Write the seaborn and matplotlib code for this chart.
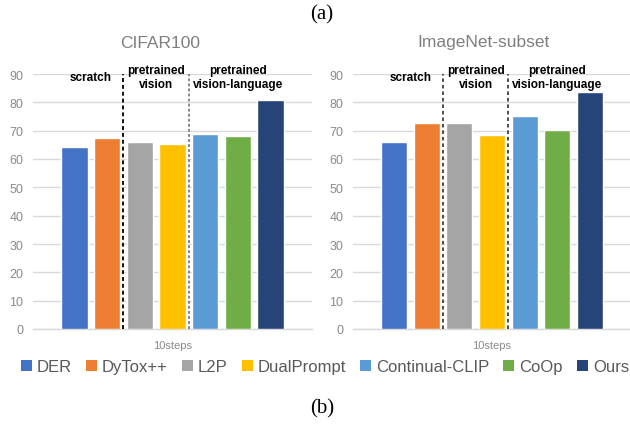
import matplotlib
matplotlib.use("Agg")
import matplotlib.pyplot as plt
from matplotlib.patches import Patch
import seaborn as sns
import pandas as pd

# ---- data ----
methods = ["DER", "DyTox++", "L2P", "DualPrompt", "Continual-CLIP", "CoOp", "Ours"]
cifar100_acc = [64.2, 67.4, 66.0, 65.3, 68.8, 68.1, 80.8]
imagenet_subset_acc = [66.0, 72.7, 72.7, 68.5, 75.2, 70.2, 83.6]
step_label = "10steps"
panel_titles = ["CIFAR100", "ImageNet-subset"]
group_names = ["scratch", "pretrained\nvision", "pretrained\nvision-language"]
group_members = [[0, 1], [2, 3], [4, 5, 6]]
y_ticks = [0, 10, 20, 30, 40, 50, 60, 70, 80, 90]

colors = ["#4472C4", "#ED7D31", "#A5A5A5", "#FFC000", "#5B9BD5", "#70AD47", "#264478"]

sns.set_theme(style="white")
plt.rcParams["font.family"] = ["Liberation Sans", "DejaVu Sans"]

TICK_COLOR = "#8a8a8a"
GRID_COLOR = "#d9d9d9"

fig = plt.figure(figsize=(6.3, 4.27), dpi=100)
ax1 = fig.add_axes([33 / 630, 97 / 427, 279 / 630, 255 / 427])
ax2 = fig.add_axes([353 / 630, 97 / 427, 278 / 630, 255 / 427])

sep_styles = [
    [dict(color="black", linestyle=(0, (2.2, 1.6))), dict(color="#7f7f7f", linestyle=(0, (1.6, 1.2)))],
    [dict(color="#404040", linestyle=(0, (2.0, 1.6))), dict(color="#404040", linestyle=(0, (2.0, 1.6)))],
]

for ax, values, title, styles in zip([ax1, ax2], [cifar100_acc, imagenet_subset_acc],
                                     panel_titles, sep_styles):
    df = pd.DataFrame({"method": methods, "acc": values, "step": step_label})
    sns.barplot(data=df, x="step", y="acc", hue="method", hue_order=methods,
                palette=colors, saturation=1, width=0.82, gap=0.2,
                legend=False, ax=ax, zorder=3)
    ax.set_xlim(-0.5, 0.5)
    ax.set_ylim(0, 90)
    ax.set_yticks(y_ticks)
    ax.set_xlabel("")
    ax.set_ylabel("")
    ax.grid(axis="y", color=GRID_COLOR, linewidth=1.0, zorder=0)
    ax.grid(axis="x", visible=False)
    for s in ["top", "right", "left"]:
        ax.spines[s].set_visible(False)
    ax.spines["bottom"].set_color(GRID_COLOR)
    ax.spines["bottom"].set_linewidth(1.0)
    ax.tick_params(axis="y", length=0, pad=7, labelsize=9, labelcolor=TICK_COLOR)
    ax.tick_params(axis="x", length=0, pad=8, labelsize=8, labelcolor=TICK_COLOR)

    bars = sorted(ax.patches, key=lambda p: p.get_x())
    # dashed separators between the method groups
    for k in range(len(group_members) - 1):
        left_bar = bars[group_members[k][-1]]
        right_bar = bars[group_members[k + 1][0]]
        xs = (left_bar.get_x() + left_bar.get_width() + right_bar.get_x()) / 2
        ax.plot([xs, xs], [0, 90], linewidth=1.3, zorder=4, **styles[k])
    # group captions
    for name, members in zip(group_names, group_members):
        xc = (bars[members[0]].get_x() + bars[members[-1]].get_x() + bars[members[-1]].get_width()) / 2
        ax.text(xc, 88.9, name, ha="center", va="center", fontsize=8.5,
                fontweight="bold", color="black", linespacing=1.15, zorder=5)

fig.text(160 / 630, 1 - 43 / 427, panel_titles[0], ha="center", va="center",
         fontsize=12.5, color="#7f7f7f")
fig.text(483 / 630, 1 - 43 / 427, panel_titles[1], ha="center", va="center",
         fontsize=12.5, color="#7f7f7f")

handles = [Patch(facecolor=c, edgecolor="none") for c in colors]
fig.legend(handles, methods, loc="center", bbox_to_anchor=(325 / 630, 1 - 368 / 427),
           ncol=7, frameon=False, fontsize=12, handlelength=0.65, handleheight=0.65,
           handletextpad=0.3, columnspacing=0.85, labelcolor="#595959")

fig.text(322 / 630, 1 - 15 / 427, "(a)", ha="center", va="center",
         fontsize=15, family=["Liberation Serif", "DejaVu Serif"], color="black")
fig.text(322 / 630, 1 - 409 / 427, "(b)", ha="center", va="center",
         fontsize=15, family=["Liberation Serif", "DejaVu Serif"], color="black")

fig.savefig("out.png", dpi=100, facecolor="white")
